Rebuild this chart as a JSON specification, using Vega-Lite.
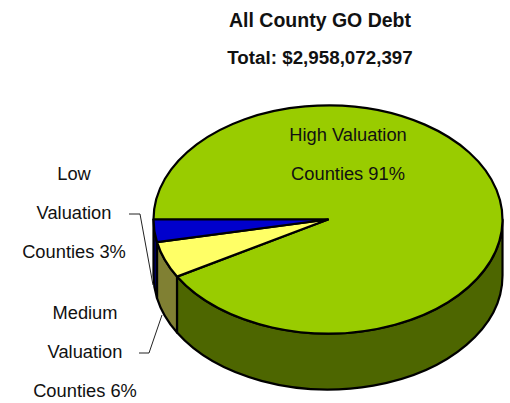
{
  "$schema": "https://vega.github.io/schema/vega-lite/v6.json",
  "width": 510,
  "height": 403,
  "padding": 0,
  "autosize": "none",
  "background": "white",
  "view": {"stroke": null},
  "title": {
    "text": "All County GO Debt",
    "subtitle": "Total: $2,958,072,397",
    "anchor": "middle",
    "dx": 65,
    "dy": 69,
    "offset": 0,
    "font": "Liberation Sans",
    "fontSize": 19.5,
    "fontWeight": "bold",
    "color": "#111111",
    "subtitleFont": "Liberation Sans",
    "subtitleFontSize": 18.8,
    "subtitleFontWeight": "bold",
    "subtitleColor": "#111111",
    "subtitlePadding": 18
  },
  "data": {
    "values": [
      {"segment": "High Valuation Counties", "share": 91, "label": "High Valuation\nCounties 91%"},
      {"segment": "Medium Valuation Counties", "share": 6, "label": "Medium\nValuation\nCounties 6%"},
      {"segment": "Low Valuation Counties", "share": 3, "label": "Low\nValuation\nCounties 3%"}
    ]
  },
  "encoding": {
    "x": {"datum": 328, "type": "quantitative", "scale": {"domain": [0, 510], "range": [0, 510], "nice": false, "zero": false}, "axis": null},
    "y": {"datum": 219.5, "type": "quantitative", "scale": {"domain": [0, 403], "range": [0, 403], "nice": false, "zero": false}, "axis": null}
  },
  "layer": [
    {
      "mark": {"type": "point", "filled": true, "size": 4, "opacity": 1, "stroke": "black", "strokeWidth": 2.2, "strokeJoin": "round"},
      "encoding": {
        "tooltip": {"field": "share", "type": "quantitative"},
        "color": {"field": "segment", "type": "nominal", "legend": null, "scale": {"domain": ["High Valuation Counties", "Medium Valuation Counties", "Low Valuation Counties"], "range": ["#4D6600", "#808033", "#000066"]}},
        "shape": {"field": "segment", "type": "nominal", "legend": null, "scale": {"domain": ["High Valuation Counties", "Medium Valuation Counties", "Low Valuation Counties"], "range": [
          "M174.5 0 L174.5 56 A174.5 114 0 0 1 -151 113.1 L-151 57.1 A174.5 114 0 0 0 174.5 0 Z",
          "M-151 57.1 L-151 113.1 A174.5 114 0 0 1 -171 78.7 L-171 22.7 A174.5 114 0 0 0 -151 57.1 Z",
          "M-171 22.7 L-171 78.7 A174.5 114 0 0 1 -174.5 56 L-174.5 0 A174.5 114 0 0 0 -171 22.7 Z"
        ]}}
      }
    },
    {
      "mark": {"type": "point", "filled": true, "size": 4, "opacity": 1, "stroke": "black", "strokeWidth": 2.2, "strokeJoin": "round"},
      "encoding": {
        "tooltip": {"field": "share", "type": "quantitative"},
        "color": {"field": "segment", "type": "nominal", "legend": null, "scale": {"domain": ["High Valuation Counties", "Medium Valuation Counties", "Low Valuation Counties"], "range": ["#99CC00", "#FFFF66", "#0000CC"]}},
        "shape": {"field": "segment", "type": "nominal", "legend": null, "scale": {"domain": ["High Valuation Counties", "Medium Valuation Counties", "Low Valuation Counties"], "range": [
          "M0 0 L-174.5 0 A174.5 114 0 1 1 -151 57.1 Z",
          "M0 0 L-151 57.1 A174.5 114 0 0 1 -171 22.7 Z",
          "M0 0 L-171 22.7 A174.5 114 0 0 1 -174.5 0 Z"
        ]}}
      }
    },
    {
      "transform": [{"filter": "datum.share < 50"}],
      "mark": {"type": "point", "filled": false, "size": 4, "opacity": 1, "stroke": "#222222", "strokeWidth": 1},
      "encoding": {
        "shape": {"field": "segment", "type": "nominal", "legend": null, "scale": {"domain": ["Medium Valuation Counties", "Low Valuation Counties"], "range": [
          "M-189 133.5 L-179 133.5 L-166 95.5",
          "M-199 -5.5 L-188 -5.5 L-175 65.5"
        ]}}
      }
    },
    {
      "transform": [{"filter": "datum.share == 91"}],
      "mark": {"type": "text", "font": "Liberation Sans", "fontSize": 18.3, "lineBreak": "\n", "lineHeight": 39, "align": "center", "baseline": "alphabetic", "color": "#111111"},
      "encoding": {"x": {"datum": 348}, "y": {"datum": 141}, "text": {"field": "label"}}
    },
    {
      "transform": [{"filter": "datum.share == 3"}],
      "mark": {"type": "text", "font": "Liberation Sans", "fontSize": 18.3, "lineBreak": "\n", "lineHeight": 39, "align": "center", "baseline": "alphabetic", "color": "#111111"},
      "encoding": {"x": {"datum": 74}, "y": {"datum": 180}, "text": {"field": "label"}}
    },
    {
      "transform": [{"filter": "datum.share == 6"}],
      "mark": {"type": "text", "font": "Liberation Sans", "fontSize": 18.3, "lineBreak": "\n", "lineHeight": 39, "align": "center", "baseline": "alphabetic", "color": "#111111"},
      "encoding": {"x": {"datum": 85}, "y": {"datum": 319}, "text": {"field": "label"}}
    }
  ],
  "resolve": {"scale": {"shape": "independent", "color": "independent"}}
}
